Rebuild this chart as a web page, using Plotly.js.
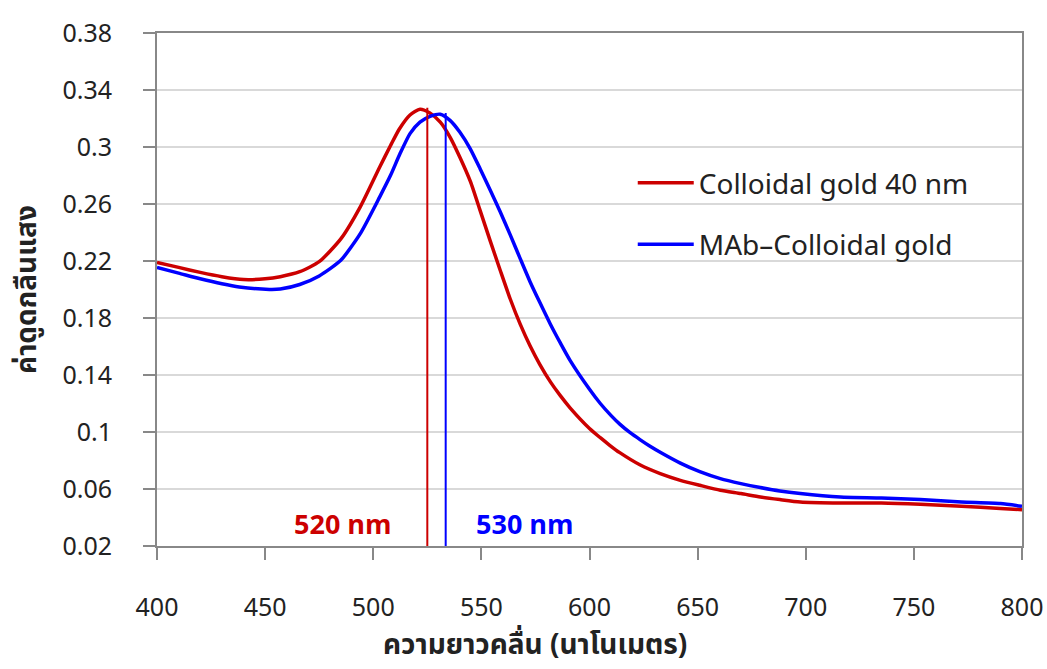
<!DOCTYPE html>
<html>
<head>
<meta charset="utf-8">
<script src="https://cdn.plot.ly/plotly-3.0.1.min.js"></script>
<style>html,body{margin:0;padding:0;background:#fff;}#chart{width:1047px;height:669px;}</style>
</head>
<body>
<div id="chart"></div>
<script>
// Wavelength (nm) and absorbance, Colloidal gold 40 nm
const redWavelength = [400,410,420,430,440,450,457,466,475,485,494,503,508,512,517,521.6,526,531,535.5,540,545,549.4,554,558.7,563.3,568,572.5,577,582,586.5,591,600,605,609.5,614,623.5,632.7,642,651,660.5,670,679,688,697.5,716,735,753,772,790,800];
const redAbsorbance = [0.219,0.2155,0.212,0.209,0.207,0.2075,0.209,0.2125,0.2195,0.2355,0.258,0.286,0.301,0.3125,0.3225,0.3265,0.324,0.3175,0.307,0.293,0.2755,0.2555,0.2345,0.2135,0.1935,0.1755,0.1605,0.1475,0.135,0.1255,0.117,0.1025,0.096,0.0905,0.0855,0.0768,0.0708,0.0661,0.0626,0.0591,0.0568,0.0544,0.0526,0.0509,0.0502,0.0502,0.0493,0.0479,0.0463,0.0455];

// MAb-Colloidal gold
const blueWavelength = [400,410,420,430,438,452,457,466,475,485,494,503,508,512.4,517,521.6,526.3,531,535.5,540,544.8,549.4,554,558.7,563.3,568,572.5,577,581.8,586.5,591,600,605,610,614,618.8,623.5,628,632.7,642,651,660.5,670,679,688,697.5,716,735,753,772,790,800];
const blueAbsorbance = [0.2154,0.2115,0.2075,0.204,0.2018,0.2,0.2003,0.2035,0.2095,0.2205,0.2392,0.265,0.2801,0.2954,0.3094,0.3175,0.3215,0.323,0.3187,0.3105,0.2989,0.2848,0.27,0.2545,0.2385,0.2215,0.2055,0.191,0.176,0.1625,0.1503,0.130,0.120,0.1115,0.1055,0.0995,0.0945,0.09,0.0858,0.0782,0.0722,0.0673,0.0638,0.061,0.0586,0.0568,0.0544,0.0537,0.0526,0.0509,0.0498,0.0479];

// Peak marker lines
const peakX = [525, 533.5];
const peakTop = [0.3276, 0.3239];
const peakLabels = ["520 nm", "530 nm"];
const peakLabelX = [486, 570];
const peakLabelY = [0.0345, 0.0345];

const seriesNames = ["Colloidal gold 40 nm", "MAb\u2013Colloidal gold"];
const xTitle = "ความยาวคลื่น (นาโนเมตร)";
const yTitle = "ค่าดูดกลืนแสง";
const yTicks = [0.02,0.06,0.1,0.14,0.18,0.22,0.26,0.3,0.34,0.38];
const yTickText = ["0.02","0.06","0.1","0.14","0.18","0.22","0.26","0.3","0.34","0.38"];
const xTicks = [400,450,500,550,600,650,700,750,800];

const RED = "#cc0000", BLUE = "#0000ff";
const FONT = "Noto Sans Thai, Noto Sans, DejaVu Sans, sans-serif";
const yMin = 0.02;

const traces = [
  {x: redWavelength, y: redAbsorbance, name: seriesNames[0], type: "scatter", mode: "lines",
   line: {color: RED, width: 3.5, shape: "spline", smoothing: 0.6}, legendgroup: "a"},
  {x: blueWavelength, y: blueAbsorbance, name: seriesNames[1], type: "scatter", mode: "lines",
   line: {color: BLUE, width: 3.5, shape: "spline", smoothing: 0.6}, legendgroup: "b"},
  {x: [peakX[0], peakX[0]], y: [yMin, peakTop[0]], type: "scatter", mode: "lines",
   line: {color: RED, width: 2}, showlegend: false, hoverinfo: "skip"},
  {x: [peakX[1], peakX[1]], y: [yMin, peakTop[1]], type: "scatter", mode: "lines",
   line: {color: BLUE, width: 2}, showlegend: false, hoverinfo: "skip"}
];

const layout = {
  width: 1047, height: 669,
  margin: {l: 157, r: 25, t: 33, b: 123},
  paper_bgcolor: "#fff", plot_bgcolor: "#fff",
  font: {family: FONT, size: 25, color: "#222"},
  showlegend: true,
  legend: {x: 0.55, y: 0.756, xanchor: "left", yanchor: "top", bgcolor: "rgba(0,0,0,0)",
           traceorder: "grouped", tracegroupgap: 22, itemwidth: 56,
           font: {family: FONT, size: 28, color: "#222"}},
  xaxis: {range: [400, 800], tickvals: xTicks, ticks: "outside", ticklen: 12, tickwidth: 2,
          tickcolor: "#888", showline: true, linecolor: "#888", linewidth: 2, mirror: true,
          showgrid: false, zeroline: false, ticklabelstandoff: 26,
          tickfont: {family: FONT, size: 25, color: "#222"}},
  yaxis: {range: [0.02, 0.38], tickvals: yTicks, ticktext: yTickText, ticks: "outside", ticklen: 12, tickwidth: 2,
          tickcolor: "#888", showline: true, linecolor: "#888", linewidth: 2, mirror: true,
          showgrid: true, gridcolor: "#d9d9d9", gridwidth: 2, zeroline: false, ticklabelstandoff: 26,
          tickfont: {family: FONT, size: 25, color: "#222"},
          title: {text: "<b>" + yTitle + "</b>", standoff: 18,
                  font: {family: FONT, size: 28, color: "#222"}}},
  annotations: [
    {x: peakLabelX[0], y: peakLabelY[0], xref: "x", yref: "y", text: "<b>" + peakLabels[0] + "</b>", showarrow: false,
     font: {family: FONT, size: 27, color: RED}},
    {x: peakLabelX[1], y: peakLabelY[1], xref: "x", yref: "y", text: "<b>" + peakLabels[1] + "</b>", showarrow: false,
     font: {family: FONT, size: 27, color: BLUE}},
    {x: 0.437, y: -0.194, xref: "paper", yref: "paper", xanchor: "center", yanchor: "middle",
     text: "<b>" + xTitle + "</b>", showarrow: false,
     font: {family: FONT, size: 28, color: "#222"}}
  ]
};

Plotly.newPlot("chart", traces, layout, {displayModeBar: false, staticPlot: true});
</script>
</body>
</html>
